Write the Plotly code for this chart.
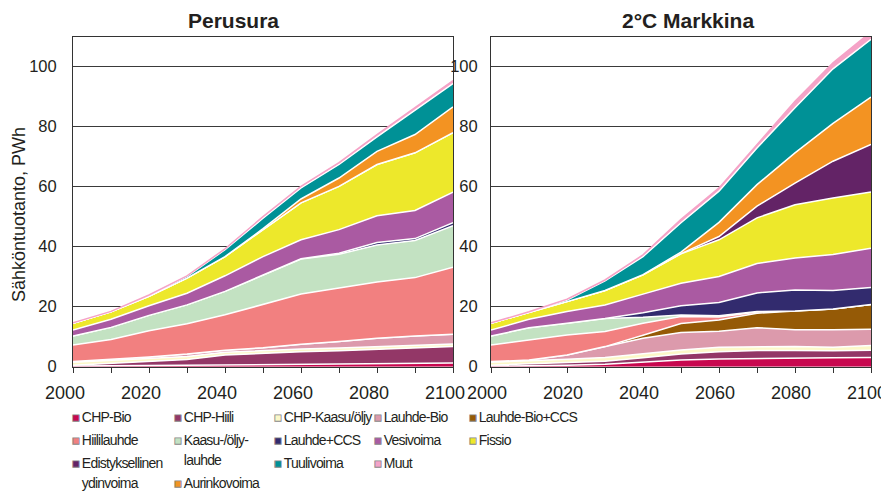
import plotly.graph_objects as go

# vuodet ja akselin tekstit
years = [2000, 2010, 2020, 2030, 2040, 2050, 2060, 2070, 2080, 2090, 2100]
x_tick_vals = [2000, 2010, 2020, 2030, 2040, 2050, 2060, 2070, 2080, 2090, 2100]
x_tick_text = ["2000", "", "2020", "", "2040", "", "2060", "", "2080", "", "2100"]
y_tick_vals = [0, 20, 40, 60, 80, 100]

series_names = [
    "CHP-Bio", "CHP-Hiili", "CHP-Kaasu/öljy", "Lauhde-Bio", "Lauhde-Bio+CCS",
    "Hiililauhde", "Kaasu-/öljy-<br>lauhde", "Lauhde+CCS", "Vesivoima", "Fissio",
    "Edistyksellinen<br>ydinvoima", "Aurinkovoima", "Tuulivoima", "Muut",
]
series_colors = [
    "#c8074f", "#933767", "#fcf8c8", "#dc9aac", "#955a06",
    "#f28080", "#c3e2c2", "#322b6e", "#aa5aa2", "#ede82b",
    "#632366", "#f39322", "#009196", "#f5a3c7",
]

# Perusura, PWh
base_chp_bio = [0.2, 0.3, 0.4, 0.5, 0.6, 0.7, 0.8, 0.9, 1.0, 1.1, 1.2]
base_chp_hiili = [0.3, 0.8, 1.3, 1.9, 3.3, 3.8, 4.2, 4.4, 4.8, 5.0, 5.5]
base_chp_kaasu = [1.0, 1.0, 1.0, 1.0, 0.9, 0.9, 0.9, 0.9, 0.9, 0.9, 0.9]
base_lauhde_bio = [0.2, 0.3, 0.5, 0.8, 0.7, 0.9, 1.6, 2.2, 2.8, 3.2, 3.2]
base_lauhde_bio_ccs = [0, 0, 0, 0, 0, 0, 0, 0, 0, 0, 0]
base_hiililauhde = [5.5, 6.7, 8.8, 10.1, 11.8, 14.5, 16.7, 17.8, 18.7, 19.5, 22.4]
base_kaasulauhde = [3.0, 4.0, 5.1, 6.3, 7.8, 9.8, 11.7, 11.3, 12.4, 12.4, 13.8]
base_lauhde_ccs = [0, 0, 0, 0, 0, 0, 0.1, 0.3, 0.8, 0.6, 1.0]
base_vesivoima = [2.0, 2.7, 3.2, 3.9, 5.2, 6.1, 6.3, 7.9, 8.9, 9.4, 10.2]
base_fissio = [2.3, 2.5, 3.2, 5.0, 6.4, 9.0, 12.3, 14.4, 17.1, 19.2, 19.8]
base_edistyksellinen = [0, 0, 0, 0, 0, 0, 0, 0, 0, 0, 0]
base_aurinko = [0, 0, 0, 0, 0, 0.3, 1.3, 2.8, 4.4, 6.1, 8.6]
base_tuuli = [0, 0.05, 0.2, 0.6, 2.3, 3.5, 3.7, 4.5, 4.8, 8.1, 7.8]
base_muut = [0.1, 0.1, 0.2, 0.2, 0.3, 0.5, 0.5, 0.6, 0.8, 0.8, 1.0]

# 2°C Markkina, PWh
mk_chp_bio = [0.2, 0.3, 0.5, 0.8, 1.5, 2.2, 2.6, 2.8, 2.9, 3.0, 3.1]
mk_chp_hiili = [0.3, 0.6, 0.8, 1.0, 1.5, 2.0, 2.4, 2.6, 2.5, 2.3, 2.4]
mk_chp_kaasu = [1.0, 1.0, 1.2, 1.3, 1.4, 1.4, 1.5, 1.3, 1.3, 1.2, 1.6]
mk_lauhde_bio = [0.2, 0.3, 1.4, 3.6, 5.1, 5.8, 5.3, 6.3, 5.6, 5.8, 5.4]
mk_lauhde_bio_ccs = [0, 0, 0, 0, 1.0, 3.0, 3.8, 4.8, 6.3, 6.9, 8.2]
mk_hiililauhde = [5.5, 6.7, 6.7, 5.0, 4.0, 2.3, 1.0, 0.4, 0, 0, 0]
mk_kaasulauhde = [3.0, 4.1, 3.9, 4.4, 2.0, 0.5, 0.4, 0.2, 0, 0, 0]
mk_lauhde_ccs = [0, 0, 0, 0, 1.5, 3.1, 4.4, 6.2, 7.0, 6.2, 5.7]
mk_vesivoima = [2.0, 2.8, 3.9, 4.5, 6.2, 7.5, 8.7, 9.8, 10.6, 12.0, 13.1]
mk_fissio = [2.3, 2.2, 3.3, 4.8, 6.4, 9.8, 12.2, 15.2, 17.8, 18.8, 18.7]
mk_edistyksellinen = [0, 0, 0, 0, 0, 0.1, 1.1, 3.9, 7.2, 12.3, 15.9]
mk_aurinko = [0, 0, 0, 0, 0.1, 0.5, 4.7, 7.2, 10.1, 12.6, 15.8]
mk_tuuli = [0, 0.1, 0.5, 3.2, 6.0, 9.8, 10.4, 12.2, 15.0, 18.2, 19.2]
mk_muut = [0.1, 0.2, 0.3, 0.3, 0.6, 1.1, 1.1, 1.2, 2.2, 2.0, 2.5]

base_series = [
    base_chp_bio, base_chp_hiili, base_chp_kaasu, base_lauhde_bio, base_lauhde_bio_ccs,
    base_hiililauhde, base_kaasulauhde, base_lauhde_ccs, base_vesivoima, base_fissio,
    base_edistyksellinen, base_aurinko, base_tuuli, base_muut,
]
mk_series = [
    mk_chp_bio, mk_chp_hiili, mk_chp_kaasu, mk_lauhde_bio, mk_lauhde_bio_ccs,
    mk_hiililauhde, mk_kaasulauhde, mk_lauhde_ccs, mk_vesivoima, mk_fissio,
    mk_edistyksellinen, mk_aurinko, mk_tuuli, mk_muut,
]

# sivun oletusreunus (8 px) vähennetään koosta
PAGE = 8
W, H = 889 - PAGE, 502 - PAGE
FONT = "Liberation Sans, Arial, sans-serif"
INK = "#231f20"


def px(x):
    return (x - PAGE) / W


def py(y):
    return 1 - (y - PAGE) / H


fig = go.Figure()

for group, data, xa, ya in [("base", base_series, "x", "y"), ("mk", mk_series, "x2", "y2")]:
    for name, color, vals in zip(series_names, series_colors, data):
        line_color = color if name == "Muut" else "white"
        fig.add_trace(
            go.Scatter(
                x=years,
                y=vals,
                stackgroup=group,
                mode="lines",
                line=dict(color=line_color, width=1.5),
                fillcolor=color,
                name=name.replace("<br>", ""),
                showlegend=False,
                xaxis=xa,
                yaxis=ya,
            )
        )


# selitteen ruutu tekstin alkuun, kuten alkuperäisessä
def swatch(color, visible=True):
    if visible:
        st = (f"color:{color};stroke:#8a8a8a;stroke-width:0.8px;"
              "font-size:13px;letter-spacing:2px")
    else:
        st = "color:rgba(0,0,0,0);font-size:13px;letter-spacing:2px"
    return f'<span style="{st}">■</span>'


# kapea kirjasin: pienempi koko ja tiiviimpi väli
def tight(text):
    return f'<span style="font-size:14px;letter-spacing:-0.8px">{text}</span>'


legend_columns = [
    ["CHP-Bio", "Hiililauhde", "Edistyksellinen<br>ydinvoima"],
    ["CHP-Hiili", "Kaasu-/öljy-<br>lauhde", "Aurinkovoima"],
    ["CHP-Kaasu/öljy", "Lauhde+CCS", "Tuulivoima"],
    ["Lauhde-Bio", "Vesivoima", "Muut"],
    ["Lauhde-Bio+CCS", "Fissio"],
]
legend_swatch_x = [72, 174, 274, 374, 469]
legend_ids = ["legend", "legend2", "legend3", "legend4", "legend5"]

for lid, col in zip(legend_ids, legend_columns):
    for name in col:
        color = series_colors[series_names.index(name)]
        lines = name.split("<br>")
        label = swatch(color) + tight(lines[0])
        for extra in lines[1:]:
            label += "<br>" + swatch(color, visible=False) + tight(extra)
        fig.add_trace(
            go.Scatter(
                x=[None],
                y=[None],
                mode="markers",
                marker=dict(color="rgba(0,0,0,0)", size=1),
                name=label,
                legend=lid,
                showlegend=True,
                xaxis="x",
                yaxis="y",
            )
        )

# selitteen pitää mahtua kuvaan, muuten se kasvattaa alareunusta
legend_layout = {}
for lid, sx in zip(legend_ids, legend_swatch_x):
    legend_layout[lid] = dict(
        x=px(sx - 40),
        xanchor="left",
        y=py(399),
        yanchor="top",
        orientation="v",
        traceorder="normal",
        bgcolor="rgba(0,0,0,0)",
        borderwidth=0,
        font=dict(family=FONT, size=15.5, color=INK),
        tracegroupgap=0,
    )

y_dom = [py(366.7), py(36.7)]
axis_common = dict(showline=True, linecolor="#333", linewidth=1, mirror=True,
                   zeroline=False, automargin=False)
x_common = dict(axis_common, range=[2000, 2100], tickmode="array",
                tickvals=x_tick_vals, ticktext=x_tick_text, ticks="outside",
                ticklen=5, tickcolor="#333", showgrid=False,
                ticklabeloverflow="allow", ticklabelstandoff=5,
                tickfont=dict(family=FONT, size=18, color=INK))
y_common = dict(axis_common, range=[0, 110], tickmode="array", tickvals=y_tick_vals,
                showgrid=True, gridcolor="#3a3a3a", gridwidth=1, ticks="",
                ticklabeloverflow="allow",
                tickfont=dict(family=FONT, size=16.5, color=INK))

fig.update_layout(
    width=W,
    height=H,
    margin=dict(l=0, r=0, t=0, b=0),
    paper_bgcolor="white",
    plot_bgcolor="white",
    font=dict(family=FONT, color=INK),
    xaxis=dict(x_common, domain=[px(73), px(453)], anchor="y", ticklabelshift=-8),
    yaxis=dict(y_common, domain=y_dom, anchor="x", ticklabelstandoff=12),
    xaxis2=dict(x_common, domain=[px(491), px(871)], anchor="y2", ticklabelshift=-4),
    yaxis2=dict(y_common, domain=y_dom, anchor="x2", ticklabelstandoff=9),
    annotations=[
        dict(text="<b>Perusura</b>", x=px(233), y=1, xref="paper", yref="paper",
             showarrow=False, font=dict(family=FONT, size=21, color=INK),
             xanchor="center", yanchor="top", borderpad=0),
        dict(text="<b>2°C Markkina</b>", x=px(688), y=1, xref="paper", yref="paper",
             showarrow=False, font=dict(family=FONT, size=21, color=INK),
             xanchor="center", yanchor="top", borderpad=0),
        dict(text="Sähköntuotanto, PWh", x=0, y=py(215), xref="paper", yref="paper",
             showarrow=False, textangle=-90, font=dict(family=FONT, size=18, color=INK),
             xanchor="left", yanchor="middle", borderpad=0),
    ],
    **legend_layout,
)

fig.write_html("out.html")
